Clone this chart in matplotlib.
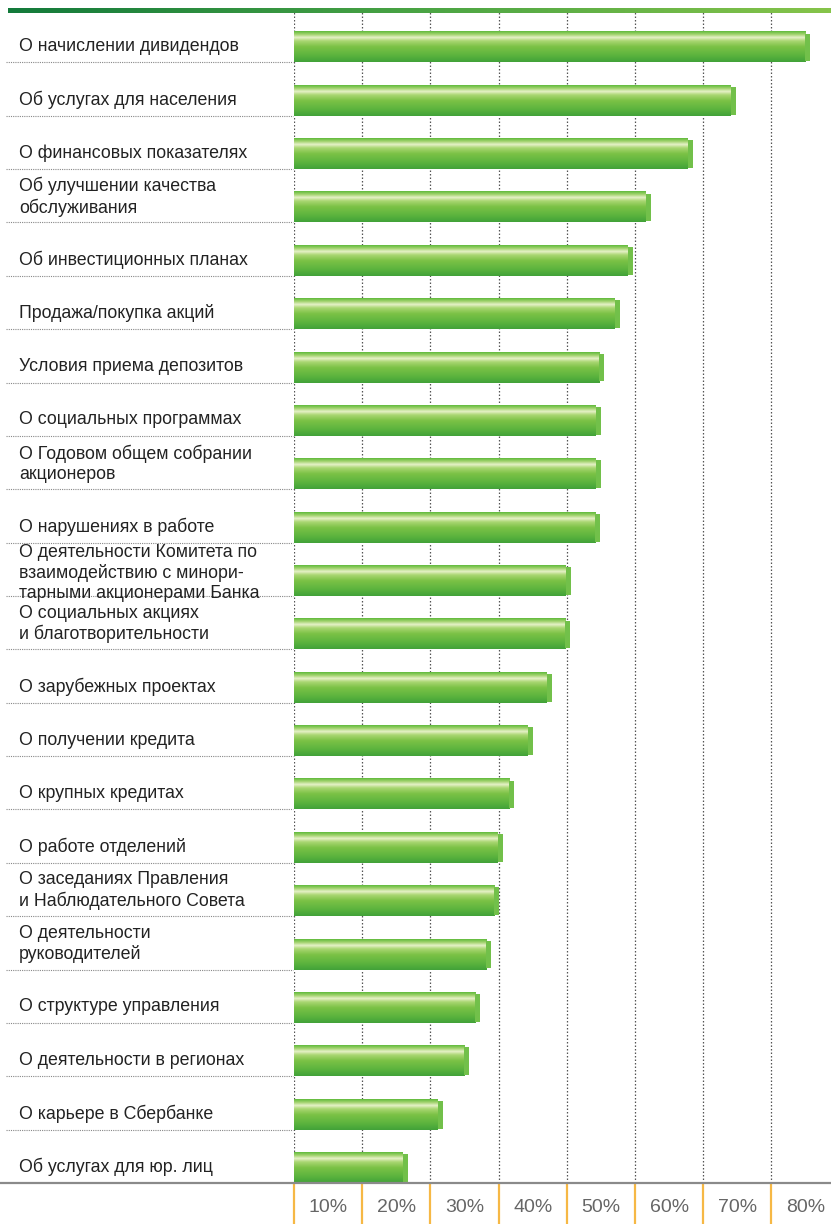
"""
Horizontal bar chart: topics of interest to shareholders (share of responses).
"""

import matplotlib

matplotlib.use("Agg")
import matplotlib.pyplot as plt
import matplotlib.transforms as mtransforms
import numpy as np
from matplotlib.colors import LinearSegmentedColormap

plt.rcParams["font.family"] = ["Liberation Sans", "DejaVu Sans"]

TOPICS = [
    "О начислении дивидендов",
    "Об услугах для населения",
    "О финансовых показателях",
    "Об улучшении качества\nобслуживания",
    "Об инвестиционных планах",
    "Продажа/покупка акций",
    "Условия приема депозитов",
    "О социальных программах",
    "О Годовом общем собрании\nакционеров",
    "О нарушениях в работе",
    "О деятельности Комитета по\nвзаимодействию с минори-\nтарными акционерами Банка",
    "О социальных акциях\nи благотворительности",
    "О зарубежных проектах",
    "О получении кредита",
    "О крупных кредитах",
    "О работе отделений",
    "О заседаниях Правления\nи Наблюдательного Совета",
    "О деятельности\nруководителей",
    "О структуре управления",
    "О деятельности в регионах",
    "О карьере в Сбербанке",
    "Об услугах для юр. лиц",
]
SHARE = [75.7, 64.8, 58.5, 52.3, 49.7, 47.8, 45.5, 45.0, 45.0, 44.9, 40.6,
         40.5, 37.8, 35.0, 32.3, 30.6, 30.1, 28.9, 27.3, 25.7, 21.8, 16.7]
GRID = [0, 10, 20, 30, 40, 50, 60, 70]
TICK_LABELS = ["10%", "20%", "30%", "40%", "50%", "60%", "70%", "80%"]

W, H = 831, 1224
X0, TOP, BASE = 294, 9, 1183      # pixel anchors of the plot area
PX_PER_UNIT = 6.82                 # 10% == 68.2 px

bar_cmap = LinearSegmentedColormap.from_list("bar", [
    (0.00, "#62bb3e"), (0.10, "#a3d36e"), (0.20, "#e6f1c8"),
    (0.32, "#a9d671"), (0.50, "#7cc246"), (0.80, "#5ab33d"), (1.00, "#42a239"),
])
top_cmap = LinearSegmentedColormap.from_list("top", ["#137a3b", "#4aa444", "#86c44a"])

fig = plt.figure(figsize=(W / 100, H / 100), dpi=100)
ax = fig.add_axes([X0 / W, (H - BASE) / H, (W - X0) / W, (BASE - TOP) / H])
n = len(TOPICS)
ax.set_xlim(0, (W - X0) / PX_PER_UNIT)
ax.set_ylim(n, 0)
ax.axis("off")

# dotted vertical grid
ax.vlines(GRID, 0, n, colors="#555555", linewidth=0.9,
          linestyles=(0, (1.2, 1.6)), zorder=1)

grad = np.linspace(0, 1, 64).reshape(-1, 1)
cap_w = 5 / PX_PER_UNIT
for i, v in enumerate(SHARE):
    y0, y1 = i + 0.43, i + 1.0
    ax.imshow(grad, cmap=bar_cmap, aspect="auto", extent=[0, v - cap_w, y1, y0],
              interpolation="bilinear", zorder=3)
    ax.add_patch(plt.Rectangle((v - cap_w, y0 + 0.03), cap_w, y1 - y0 - 0.05,
                               facecolor="#72c04a", edgecolor="none", zorder=3))

# labels and dotted separators in the left column
fig_y = mtransforms.blended_transform_factory(fig.transFigure, ax.transData)
label_pos = {1: 0.70, 2: 0.52, 3: 0.57}
for i, lab in enumerate(TOPICS):
    nl = lab.count("\n") + 1
    ax.text(19 / W, i + label_pos[nl], lab, transform=fig_y, ha="left", va="center",
            fontsize=12.8, color="#222222", linespacing=1.2)
for b in range(1, n):
    ax.plot([6 / W, (X0 - 1) / W], [b, b], transform=fig_y, color="#888888",
            linewidth=0.8, linestyle=(0, (1, 1)), clip_on=False)

# baseline axis
ax.plot([0, 1], [n, n], transform=fig_y, color="#8a8a8a", linewidth=1.6,
        clip_on=False, zorder=5)

# orange ticks below the axis and tick labels centred in the intervals
x_fig = mtransforms.blended_transform_factory(ax.transData, fig.transFigure)
for g, lab in zip(GRID, TICK_LABELS):
    ax.plot([g, g], [0, (H - BASE - 1) / H], transform=x_fig, color="#f6b845",
            linewidth=1.6, clip_on=False)
    ax.text(g + 5, (H - 1207) / H, lab, transform=x_fig, ha="center",
            va="center", fontsize=14, color="#666666")

# green gradient rule on top
tax = fig.add_axes([8 / W, (H - 13) / H, 1 - 8 / W, 5 / H])
tax.imshow(np.linspace(0, 1, 256).reshape(1, -1), cmap=top_cmap, aspect="auto")
tax.axis("off")

fig.savefig("out.png", dpi=100)
